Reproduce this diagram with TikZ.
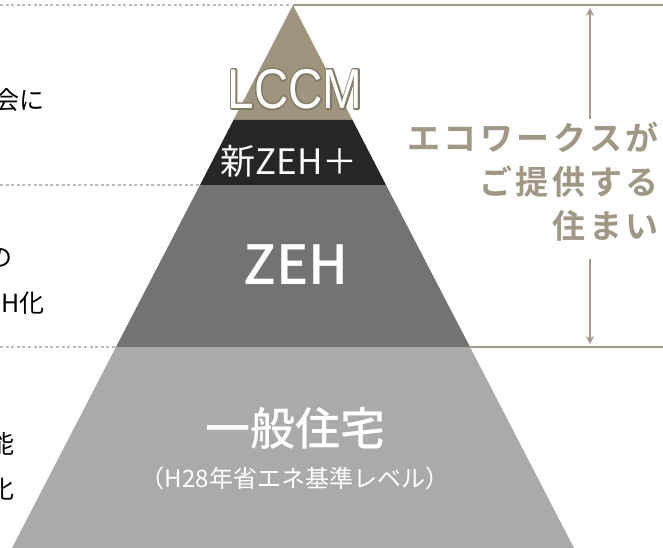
\documentclass[tikz,border=0pt]{standalone}
\usepackage{fontspec}
\setmainfont{Noto Sans CJK JP}
\newfontfamily\jp{Noto Sans CJK JP}
\newfontfamily\jpm{Noto Sans CJK JP Medium}
\newfontfamily\jpsp[LetterSpace=11]{Noto Sans CJK JP Bold}
\newfontfamily\lat{Liberation Sans}
\definecolor{tan}{HTML}{9F957F}
\definecolor{tanline}{HTML}{A39A88}
\definecolor{tantext}{HTML}{A09784}
\definecolor{darkband}{HTML}{262626}
\definecolor{midband}{HTML}{737373}
\definecolor{lightband}{HTML}{ABAAA8}
\definecolor{dotgray}{HTML}{BDBDBD}
\tikzset{
  dotline/.style={draw=dotgray, line width=2pt, dash pattern=on 3pt off 2.6pt},
  tanrule/.style={draw=tanline, line width=2.5pt},
  dimarrow/.style={draw=tanline, line width=2pt, -{Stealth[length=8pt,width=8pt]}},
  lefttext/.style={anchor=east, inner sep=0pt, font=\jp\fontsize{25}{25}\selectfont, text=black},
  bandtext/.style={inner sep=0pt, text=white},
}
\usetikzlibrary{arrows.meta}
\begin{document}
\begin{tikzpicture}[x=1pt,y=-1pt]
\useasboundingbox (0,0) rectangle (663,548);
\clip (0,0) rectangle (663,548);
% pyramid layers
\coordinate (apex) at (293,5);
\fill[tan] (apex) -- (352.5,120) -- (233.5,120) -- cycle;
\fill[darkband] (233.5,120) -- (352.5,120) -- (386,185) -- (200,185) -- cycle;
\fill[midband] (200,185) -- (386,185) -- (470,347) -- (116,347) -- cycle;
\fill[lightband] (116,347) -- (470,347) -- (575,550) -- (11,550) -- cycle;
% dotted guides on the left
\coordinate (d1a) at (0,5);   \coordinate (d1b) at (290,5);
\coordinate (d2a) at (0,185); \coordinate (d2b) at (200,185);
\coordinate (d3a) at (0,347); \coordinate (d3b) at (116,347);
\draw[dotline] (d1a) -- (d1b);
\draw[dotline] (d2a) -- (d2b);
\draw[dotline] (d3a) -- (d3b);
% tan rules on the right
\coordinate (r1a) at (293,5);   \coordinate (r1b) at (663,5);
\coordinate (r2a) at (470,347); \coordinate (r2b) at (663,347);
\draw[tanrule] (r1a) -- (r1b);
\draw[tanrule] (r2a) -- (r2b);
% right label
\node[anchor=north east, inner sep=0pt, align=right, text=tantext,
      font=\jpsp\fontsize{33}{44}\selectfont] (label) at (659,122)
  {エコワークスが\\ご提供する\\住まい};
\coordinate (aup1) at (590,119); \coordinate (aup2) at (590,8);
\coordinate (adn1) at (590,259); \coordinate (adn2) at (590,344);
\draw[dimarrow] (aup1) -- (aup2);
\draw[dimarrow] (adn1) -- (adn2);
% band texts
\node[bandtext, font=\jp\fontsize{35}{35}\selectfont] (zehplus) at (289,161) {新ZEH＋};
\node[bandtext, font=\jpm\fontsize{54}{54}\selectfont] (zeh) at (296,265) {ZEH};
\node[bandtext, font=\jpm\fontsize{45}{45}\selectfont] (ippan) at (295,428) {一般住宅};
\node[bandtext, font=\jp\fontsize{24}{24}\selectfont] (h28) at (295,478) {（H28年省エネ基準レベル）};
% left cropped texts
\node[lefttext] (l1) at (45,100) {会に};
\node[lefttext] (l2) at (13,258) {の};
\node[lefttext] (l3) at (45,303) {H化};
\node[lefttext] (l4) at (15,444) {能};
\node[lefttext] (l5) at (15,489) {化};
% LCCM: white letters with a darker outline (stroked copy under a filled copy)
\node[bandtext, font=\lat\fontsize{56}{56}\selectfont, xscale=0.85, transform shape] (lccm) at (295,89)
  {\rlap{\special{pdf:literal direct 2 Tr 3.4 w 1 j 0.522 0.478 0.400 RG 0.522 0.478 0.400 rg}LCCM\special{pdf:literal direct 0 Tr 1 g}}LCCM};
\end{tikzpicture}
\end{document}
